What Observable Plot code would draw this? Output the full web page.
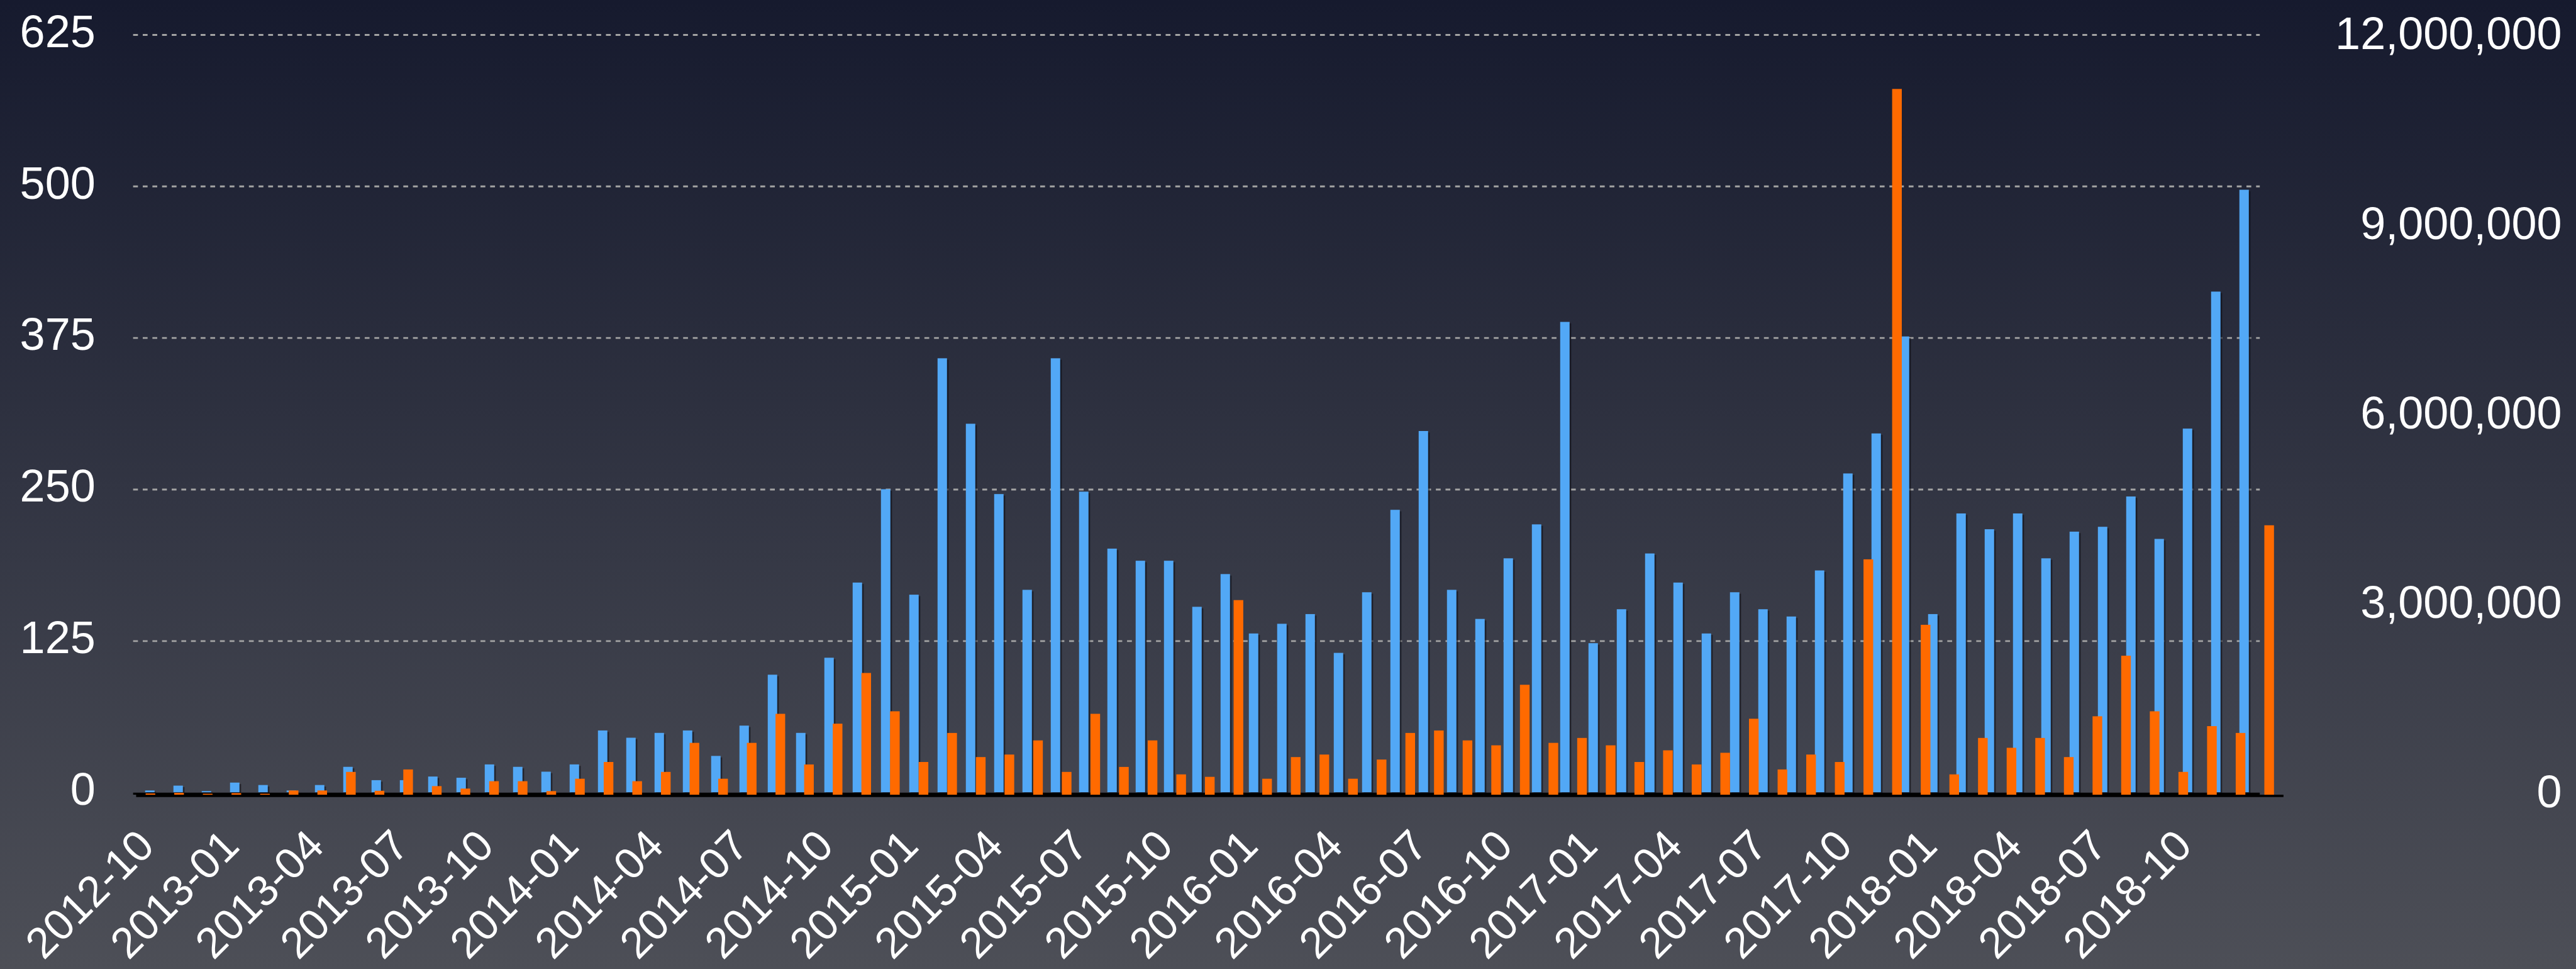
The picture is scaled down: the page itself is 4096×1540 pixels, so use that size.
<!DOCTYPE html>
<html>
<head>
<meta charset="utf-8">
<script src="https://cdn.jsdelivr.net/npm/d3@7"></script>
<script src="https://cdn.jsdelivr.net/npm/@observablehq/plot@0.6"></script>
<style>
  html, body { margin: 0; padding: 0; width: 4096px; height: 1540px; overflow: hidden; }
  body { background: linear-gradient(to bottom, #161a2e 0%, #4d4f57 100%); }
  #chart { position: relative; width: 4096px; height: 1540px; }
  #chart svg { position: absolute; left: 0; top: 0; background: transparent; overflow: visible; }
</style>
</head>
<body>
<div id="chart"></div>
<script>
// ---------- data ----------
const months = [
  "2012-10","2012-11","2012-12",
  "2013-01","2013-02","2013-03","2013-04","2013-05","2013-06","2013-07","2013-08","2013-09","2013-10","2013-11","2013-12",
  "2014-01","2014-02","2014-03","2014-04","2014-05","2014-06","2014-07","2014-08","2014-09","2014-10","2014-11","2014-12",
  "2015-01","2015-02","2015-03","2015-04","2015-05","2015-06","2015-07","2015-08","2015-09","2015-10","2015-11","2015-12",
  "2016-01","2016-02","2016-03","2016-04","2016-05","2016-06","2016-07","2016-08","2016-09","2016-10","2016-11","2016-12",
  "2017-01","2017-02","2017-03","2017-04","2017-05","2017-06","2017-07","2017-08","2017-09","2017-10","2017-11","2017-12",
  "2018-01","2018-02","2018-03","2018-04","2018-05","2018-06","2018-07","2018-08","2018-09","2018-10","2018-11","2018-12"
];

// left axis series (blue)
const blueValues = [
  1.5, 5.5, 1,
  8, 6, 1.5, 6, 21, 10, 10, 13, 12, 23, 21, 17,
  23, 51, 45, 49, 51, 30, 55, 97, 49, 111, 173, 250,
  163, 358, 304, 246, 167, 358, 248, 201, 191, 191, 153, 180,
  131, 139, 147, 115, 165, 233, 298, 167, 143, 193, 221, 388,
  123, 151, 197, 173, 131, 165, 151, 145, 183, 263, 296, 376,
  147, 230, 217, 230, 193, 215, 219, 244, 209, 300, 413, 497
];

// right axis series (orange)
const orangeValues = [
  20000, 29000, 15000,
  25000, 15000, 67000, 67000, 361000, 62000, 400000, 136000, 97000, 214000, 214000, 57000,
  253000, 518000, 214000, 361000, 821000, 253000, 821000, 1281000, 479000, 1125000, 1928000, 1321000,
  518000, 978000, 596000, 636000, 860000, 361000, 1281000, 440000, 860000, 322000, 283000, 3082000,
  253000, 596000, 636000, 253000, 557000, 978000, 1017000, 860000, 782000, 1741000, 821000, 899000,
  782000, 518000, 703000, 479000, 664000, 1203000, 400000, 636000, 518000, 3728000, 11177000, 2691000,
  322000, 899000, 743000, 899000, 596000, 1242000, 2201000, 1321000, 361000, 1086000, 978000, 4267000
];

const monthTicks = [
  "2012-10","2013-01","2013-04","2013-07","2013-10","2014-01","2014-04","2014-07","2014-10",
  "2015-01","2015-04","2015-07","2015-10","2016-01","2016-04","2016-07","2016-10",
  "2017-01","2017-04","2017-07","2017-10","2018-01","2018-04","2018-07","2018-10"
];
const leftTicks = [0, 125, 250, 375, 500, 625];
const gridTicks = [125, 250, 375, 500, 625];
const rightTicks = [0, 3000000, 6000000, 9000000, 12000000];

// ---------- layout ----------
const S = 0.959;
const W = 4096, H = 1540;
const FONT = "'Liberation Sans', Arial, Helvetica, sans-serif";
const FS = 72;

const blueData = months.map((m, i) => ({month: m, value: blueValues[i]}));
const orangeData = months.map((m, i) => ({month: m, value: orangeValues[i]}));

const bluePlot = Plot.plot({
  width: W,
  height: H,
  marginLeft: 220.7 * S,
  marginRight: (4271 - 3746.7) * S,
  marginTop: 57.3 * S,
  marginBottom: H - 1313 * S,
  style: {background: "transparent", fontFamily: FONT, color: "#ffffff", overflow: "visible"},
  x: {type: "band", domain: months, paddingInner: 0.66, paddingOuter: 0.33, label: null},
  y: {domain: [0, 625], label: null},
  marks: [
    Plot.ruleY(gridTicks, {stroke: "#a3a3a3", strokeWidth: 3 * S, strokeDasharray: `${8 * S},${8 * S}`}),
    Plot.barY(blueData, {x: "month", y: "value", fill: "#090b14", fillOpacity: 0.55, dx: 3.5 * S, dy: 2.5 * S}),
    Plot.barY(blueData, {x: "month", y: "value", fill: "#52a8f6", dx: 0.8 * S}),
    Plot.ruleY([0], {stroke: "#000000", strokeWidth: 3.5 * S, dy: 1.75 * S}),
    Plot.axisY({ticks: leftTicks, tickSize: 0, tickPadding: 63 * S, fontSize: FS, fill: "#ffffff", dy: -4 * S, label: null}),
    Plot.axisX({
      ticks: monthTicks, tickRotate: -45, tickSize: 0, tickPadding: 76 * S, dx: -5,
      textAnchor: "end", lineAnchor: "middle", fontSize: 69, fill: "#ffffff", label: null
    })
  ]
});

const orangePlot = Plot.plot({
  width: W,
  height: H,
  marginLeft: 225.7 * S,
  marginRight: (4271 - 3786) * S,
  marginTop: 61.3 * S,
  marginBottom: H - 1317 * S,
  style: {background: "transparent", fontFamily: FONT, color: "#ffffff", overflow: "visible"},
  x: {type: "band", domain: months, paddingInner: 0.663, paddingOuter: 0.3315, label: null, axis: null},
  y: {domain: [0, 12000000], label: null},
  marks: [
    Plot.ruleY([0], {stroke: "#000000", strokeWidth: 4 * S, dy: 1.5 * S}),
    Plot.barY(orangeData, {x: "month", y: "value", fill: "#ff6a00"}),
    Plot.axisY({
      anchor: "right", ticks: rightTicks, tickFormat: d3.format(","), tickSize: 0, tickPadding: 0,
      textAnchor: "end", dx: (4247 - 3786) * S, dy: -4 * S, fontSize: FS, fill: "#ffffff", label: null
    })
  ]
});

const chart = document.getElementById("chart");
chart.appendChild(bluePlot);
chart.appendChild(orangePlot);
</script>
</body>
</html>
